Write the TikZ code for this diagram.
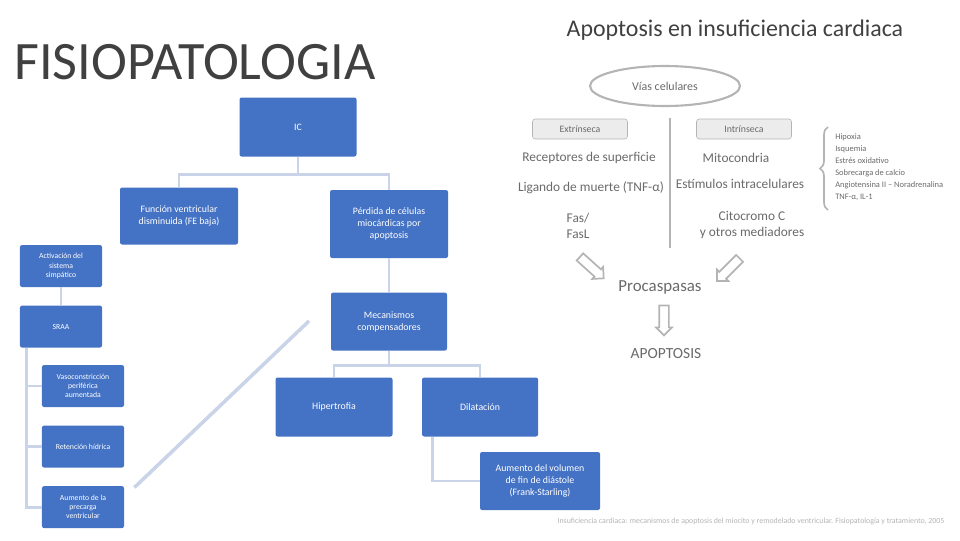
\documentclass[tikz,border=0pt]{standalone}
\usepackage{fontspec}
\setmainfont{Carlito}
\usepackage{tikz}
\usetikzlibrary{positioning,arrows.meta,calc,shapes.geometric,shapes.arrows,decorations.pathreplacing}
\definecolor{azul}{HTML}{4472C4}
\definecolor{enlace}{HTML}{C9D4E8}
\definecolor{gris}{HTML}{B4B4B4}
\definecolor{texto}{HTML}{6A6A6A}
\definecolor{titulo}{HTML}{404040}
\tikzset{
  box/.style={fill=azul, text=white, rounded corners=1.5pt, align=center,
              font=\fontsize{7}{8.5}\selectfont, inner sep=2pt},
  mini/.style={box, minimum width=20.5mm, minimum height=10.5mm,
               font=\fontsize{5.5}{6.5}\selectfont},
  lnk/.style={draw=enlace, line width=2pt},
  etq/.style={text=texto, font=\fontsize{9.5}{11.5}\selectfont, align=center, inner sep=1pt},
  via/.style={draw=gris, fill=gris!25, rounded corners=2pt, minimum width=23.75mm,
              minimum height=5mm, text=texto, font=\fontsize{7}{8}\selectfont, inner sep=1pt},
  fatarr/.style={single arrow, draw=gris, fill=white, line width=1.2pt, minimum height=8mm,
                 minimum width=4mm, single arrow head extend=0.8mm, inner sep=1mm},
}
\begin{document}
\begin{tikzpicture}[x=0.25mm, y=-0.25mm]
  \useasboundingbox (0,0) rectangle (960,540);
  % titles
  \node[anchor=west, text=titulo, font=\fontsize{38.5}{38.5}\selectfont, inner sep=0] (tit) at (14,62) {FISIOPATOLOGIA};
  \node[text=titulo, font=\fontsize{17}{17}\selectfont, inner sep=0] (tap) at (735,30) {Apoptosis en insuficiencia cardiaca};
  % main tree
  \node[box, minimum width=29.25mm, minimum height=14.75mm] (ic) at (298,127) {IC};
  \node[box, minimum width=29.5mm, minimum height=14.25mm] (fv) at (179,216) {Función ventricular\\disminuida (FE baja)};
  \node[box, minimum width=29.5mm, minimum height=17mm] (apo) at (389,224) {Pérdida de células\\miocárdicas por\\apoptosis};
  \node[box, minimum width=29mm, minimum height=14.5mm, below=8.5mm of apo] (mec) {Mecanismos\\compensadores};
  \node[box, minimum width=29.25mm, minimum height=14.75mm] (hip) at (334,407) {Hipertrofia};
  \node[box, minimum width=29mm, minimum height=14.75mm, right=7.25mm of hip] (dil) {Dilatación};
  \node[box, minimum width=30mm, minimum height=14.5mm] (vol) at (540,481) {Aumento del volumen\\de fin de diástole\\(Frank-Starling)};
  % left column
  \node[mini] (sns) at (61,266) {Activación del\\sistema\\simpático};
  \node[mini, below=4.5mm of sns] (sraa) {SRAA};
  \node[mini] (vaso) at (83,386) {Vasoconstricción\\periférica\\aumentada};
  \node[mini, below=4.5mm of vaso] (ret) {Retención hídrica};
  \node[mini, below=4.5mm of ret] (pre) {Aumento de la\\precarga\\ventricular};
  % connectors
  \draw[lnk] (ic.south) -- ++(0,-4.5mm) -| (fv.north);
  \draw[lnk] (ic.south) -- ++(0,-4.5mm) -| (apo.north);
  \draw[lnk] (apo) -- (mec);
  \draw[lnk] (mec.south) -- ++(0,-3.75mm) -| (hip.north);
  \draw[lnk] (mec.south) -- ++(0,-3.75mm) -| (dil.north);
  \draw[lnk] ([xshift=2.75mm]dil.south west) |- (vol.west);
  \draw[lnk] (sns) -- (sraa);
  \draw[lnk] ([xshift=1.75mm]sraa.south west) |- (vaso.west);
  \draw[lnk] ([xshift=1.75mm]sraa.south west) |- (ret.west);
  \draw[lnk] ([xshift=1.75mm]sraa.south west) |- (pre.west);
  \draw[lnk, line width=2.5pt, shorten <=3.5mm, shorten >=7.5mm] ([yshift=2.5mm]pre.east) -- ([yshift=-2mm]mec.north west);
  % apoptosis
  \node[ellipse, draw=gris, line width=1.5pt, minimum width=37.5mm, minimum height=10mm,
        text=texto, font=\fontsize{8.5}{10}\selectfont] (vias) at (665,86) {Vías celulares};
  \coordinate (vt) at (670,118);
  \coordinate (vb) at (670,248);
  \draw[gris, line width=1.5pt] (vt) -- (vb);
  \node[via] (ext) at (580,129) {Extrínseca};
  \node[via] (int) at (744,129) {Intrínseca};
  \node[etq] (rec) at (589,158) {Receptores de superficie};
  \node[etq] (lig) at (591,188) {Ligando de muerte (TNF-α)};
  \node[etq] (fas) at (578,226) {Fas/\\FasL};
  \node[etq] (mit) at (736,158) {Mitocondria};
  \node[etq] (est) at (740,184) {Estímulos intracelulares};
  \node[etq] (cit) at (752,225) {Citocromo C\\y otros mediadores};
  \coordinate (brb) at (828,210);
  \coordinate (brt) at (828,127);
  \draw[gris, line width=1.2pt, decorate, decoration={brace, amplitude=2mm}] (brb) -- (brt);
  \node[anchor=west, align=left, text=texto, font=\fontsize{6}{8.5}\selectfont, inner sep=0] (lst) at (835,167)
    {Hipoxia\\Isquemia\\Estrés oxidativo\\Sobrecarga de calcio\\Angiotensina II -- Noradrenalina\\TNF-α, IL-1};
  \node[etq, font=\fontsize{12}{14}\selectfont] (pro) at (660,287) {Procaspasas};
  \node[etq, font=\fontsize{11}{13}\selectfont] (apt) at (666,354) {APOPTOSIS};
  \node[fatarr, rotate=-42] (fl) at (590,266) {};
  \node[fatarr, rotate=-135] (fr) at (730,268) {};
  \node[fatarr, rotate=-90, minimum height=7.5mm] (fd) at (664,318) {};
  % source
  \node[text=gris, font=\fontsize{5.6}{6.5}\selectfont, inner sep=0] (fuente) at (751,521)
    {Insuficiencia cardiaca: mecanismos de apoptosis del miocito y remodelado ventricular. Fisiopatología y tratamiento, 2005};
\end{tikzpicture}
\end{document}
